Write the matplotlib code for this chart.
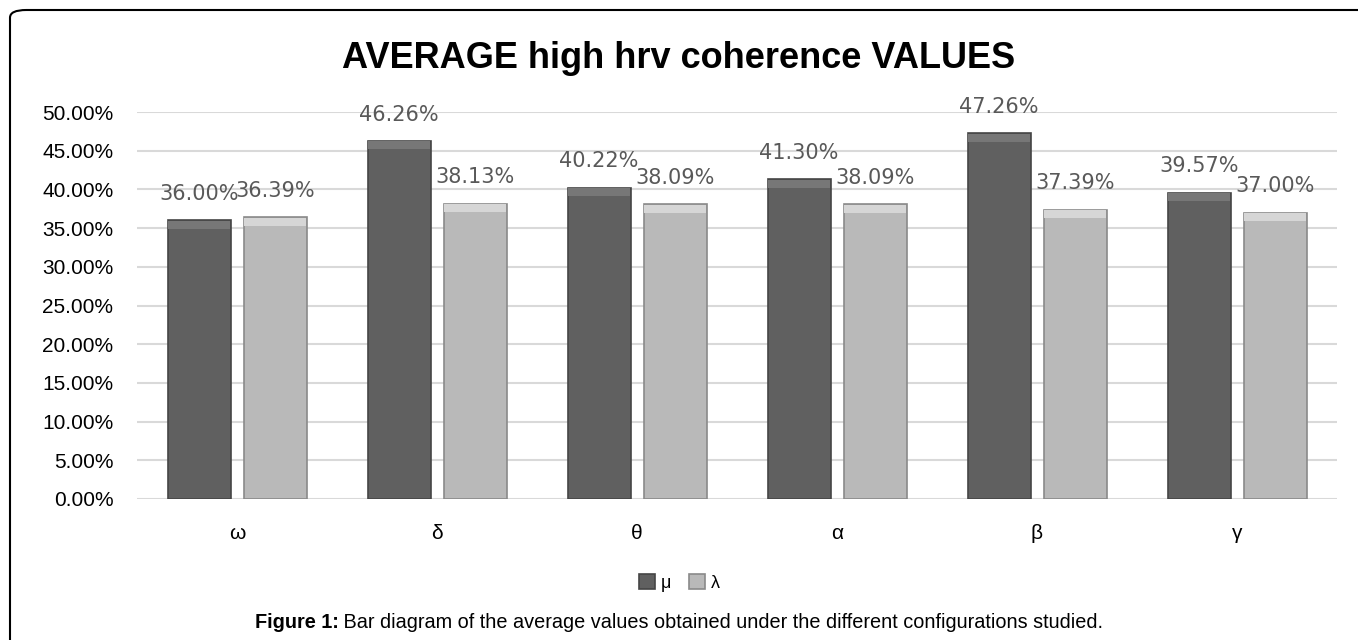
import matplotlib
matplotlib.use('Agg')
import matplotlib.pyplot as plt
import numpy as np
from matplotlib.patches import FancyBboxPatch, Rectangle
from matplotlib.ticker import PercentFormatter

# data
categories = ['ω', 'δ', 'θ', 'α', 'β', 'γ']
mu_vals = [0.3600, 0.4626, 0.4022, 0.4130, 0.4726, 0.3957]
lambda_vals = [0.3639, 0.3813, 0.3809, 0.3809, 0.3739, 0.3700]
series_names = ['μ', 'λ']

plt.rcParams['font.family'] = ['Liberation Sans', 'DejaVu Sans']

fig = plt.figure(figsize=(13.58, 6.40), dpi=100)
ax = fig.add_axes([137 / 1358, 1 - 499 / 640, 1200 / 1358, 387 / 640])

x = np.arange(len(categories))
w = 0.315
off = 0.19

dark = '#606060'
light = '#b9b9b9'
b1 = ax.bar(x - off, mu_vals, w, color=dark, edgecolor='#454545', linewidth=1.2, zorder=3, label=series_names[0])
b2 = ax.bar(x + off, lambda_vals, w, color=light, edgecolor='#8a8a8a', linewidth=1.2, zorder=3, label=series_names[1])

# bevel highlight on the top of each bar
for bars, hi in ((b1, '#777777'), (b2, '#d6d6d6')):
    for b in bars:
        h = b.get_height()
        ax.add_patch(Rectangle((b.get_x() + 0.004, h - 0.011), b.get_width() - 0.008, 0.0105,
                               color=hi, zorder=4, linewidth=0))

for bars, vals in ((b1, mu_vals), (b2, lambda_vals)):
    for b, v in zip(bars, vals):
        ax.annotate('%.2f%%' % (v * 100), (b.get_x() + b.get_width() / 2, v),
                    xytext=(0, 19), textcoords='offset points',
                    ha='center', va='center', fontsize=15, color='#595959',
                    family='DejaVu Sans', zorder=5)

ax.set_ylim(0, 0.5)
ax.set_xlim(-0.5, len(categories) - 0.5)
ax.set_yticks(np.arange(0, 0.501, 0.05))
ax.yaxis.set_major_formatter(PercentFormatter(1.0, decimals=2))
ax.set_xticks(x)
ax.set_xticklabels(categories)
ax.tick_params(axis='both', length=0, labelsize=15, colors='black')
ax.tick_params(axis='x', pad=18)
ax.tick_params(axis='y', pad=17)
ax.grid(axis='y', color='#d9d9d9', linewidth=1.5, zorder=0)
for s in ax.spines.values():
    s.set_visible(False)

fig.text(679 / 1358, 1 - 58 / 640, 'AVERAGE high hrv coherence VALUES',
         ha='center', va='center', fontsize=26, fontweight='bold')

fig.legend(loc='center', bbox_to_anchor=(679 / 1358, 1 - 583 / 640), ncol=2,
           frameon=False, fontsize=13, handlelength=0.9, handleheight=0.9,
           handletextpad=0.3, columnspacing=1.0)

# caption with bold prefix
t1 = fig.text(0, 1 - 622 / 640, 'Figure 1:', ha='left', va='center', fontsize=14.3, fontweight='bold')
t2 = fig.text(0, 1 - 622 / 640, ' Bar diagram of the average values obtained under the different configurations studied.',
              ha='left', va='center', fontsize=14.3)
fig.canvas.draw()
r = fig.canvas.get_renderer()
w1 = t1.get_window_extent(r).width
w2 = t2.get_window_extent(r).width
start = 679 - (w1 + w2) / 2
t1.set_x(start / 1358)
t2.set_x((start + w1) / 1358)

# rounded frame
frame = FancyBboxPatch((10 / 1358, -0.1), 1.2, 1.1 - 10 / 640,
                       boxstyle='round,pad=0,rounding_size=0.012',
                       transform=fig.transFigure, fill=False,
                       edgecolor='black', linewidth=1.5, clip_on=False)
fig.patches.append(frame)

plt.savefig('out.png', dpi=100)
